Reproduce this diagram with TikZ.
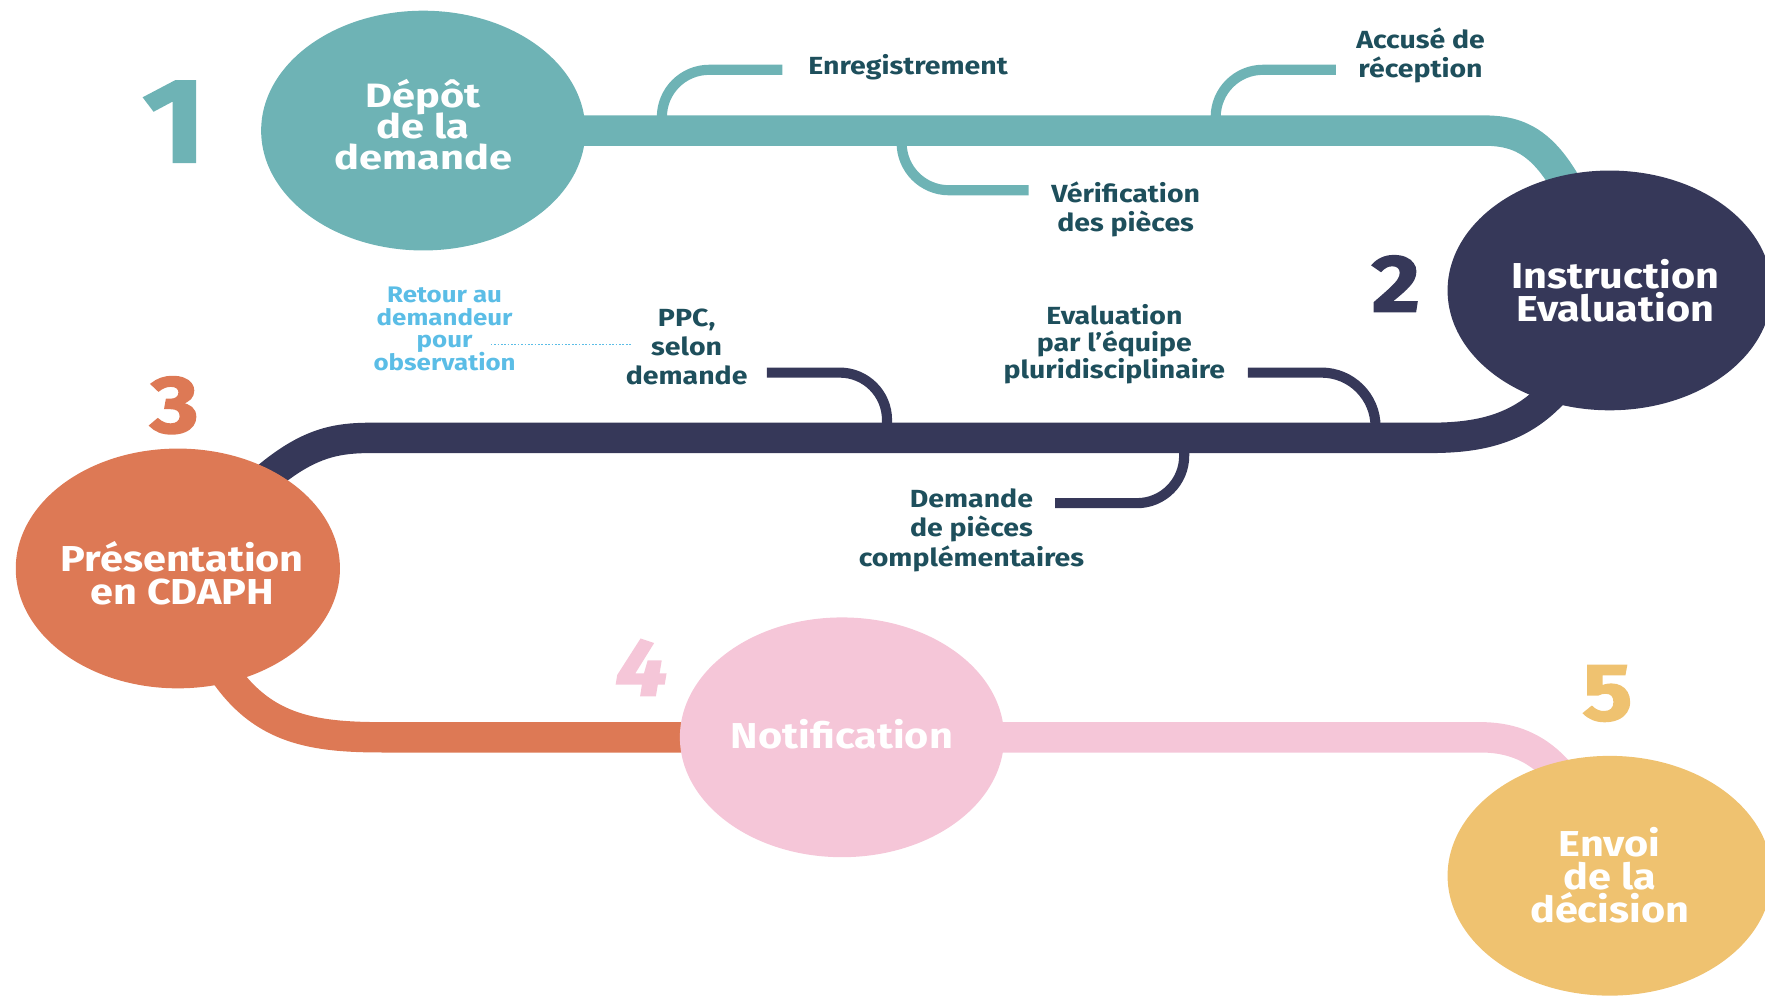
\documentclass[tikz,border=0pt]{standalone}
\usepackage{fontspec}
\setmainfont{Fira Sans}[FakeStretch=1.15]
\newfontfamily\widefont{Fira Sans}[FakeStretch=1.23]
\newfontfamily\digitfont{Fira Sans}[FakeStretch=1.15, BoldFeatures={FakeBold=2}, BoldItalicFeatures={FakeBold=2}]
\usetikzlibrary{shapes.geometric,backgrounds,calc}

\definecolor{tealstep}{HTML}{6EB3B5}
\definecolor{navystep}{HTML}{363859}
\definecolor{orangestep}{HTML}{DD7955}
\definecolor{pinkstep}{HTML}{F5C6D8}
\definecolor{yellowstep}{HTML}{EFC270}
\definecolor{labeltext}{HTML}{1E4F5C}
\definecolor{retourblue}{HTML}{5BBDE6}

\newcommand\tightlines{\lineskiplimit=-30pt\relax}

\tikzset{
  stage/.style={ellipse, minimum width=288pt, minimum height=213pt, inner sep=0pt},
  stagetext/.style={text=white, font=\fontsize{32}{29}\selectfont\bfseries\tightlines, align=center, inner sep=0pt},
  bignum/.style={font=\fontsize{72}{72}\selectfont\digitfont\bfseries, inner sep=0pt},
  steplabel/.style={text=labeltext, font=\fontsize{22}{26}\selectfont\bfseries\tightlines, align=center, inner sep=0pt},
  track/.style={line width=27pt},
  hook/.style={line width=9pt, rounded corners=42pt},
  dotline/.style={retourblue, line width=1.5pt, dash pattern=on 1.5pt off 1.5pt},
}

\begin{document}
\begin{tikzpicture}[x=1pt, y=-1pt]
\useasboundingbox (0,0) rectangle (1568,884);

% the five steps
\node [stage, fill=tealstep] (d1) at (376,116) {};
\node [stage, fill=navystep] (i2) at (1430,258) {};
\node [stage, fill=orangestep] (p3) at (158,505) {};
\node [stage, fill=pinkstep] (n4) at (748,655) {};
\node [stage, fill=yellowstep] (e5) at (1430,778) {};

\node [stagetext, font=\fontsize{30}{27.5}\selectfont\widefont\bfseries\tightlines] (d1t) at ($(d1)+(0,-5)$) {Dépôt\\de la\\demande};
\node [stagetext] (i2t) at ($(i2)+(5,0)$) {Instruction\\Evaluation};
\node [stagetext] (p3t) at ($(p3)+(4,4.5)$) {Présentation\\en CDAPH};
\node [stagetext] (n4t) at ($(n4)+(0,-2.5)$) {Notification};
\node [stagetext] (e5t) at ($(e5)+(0,-0.5)$) {Envoi\\de la\\décision};

% numbers
\node [bignum, tealstep, font=\fontsize{106}{106}\selectfont\digitfont\bfseries] (num1) at (155,108) {1};
\node [bignum, navystep] (num2) at (1240,252) {2};
\node [bignum, orangestep] (num3) at (155,360) {3};
\node [bignum, pinkstep, font=\fontsize{72}{72}\selectfont\digitfont\bfseries\itshape] (num4) at (570,593) {4};
\node [bignum, yellowstep] (num5) at (1428,616) {5};

% labels
\node [steplabel, anchor=west] (enr) at (718,60) {Enregistrement};
\node [steplabel] (acc) at (1262,49) {Accusé de\\réception};
\node [steplabel] (ver) at (1000,186) {Vérification\\des pièces};
\node [steplabel] (ppc) at (610,308) {PPC,\\selon\\demande};
\node [steplabel, font=\fontsize{22}{24}\selectfont\bfseries\tightlines] (eval) at (990,306) {Evaluation\\par l’équipe\\pluridisciplinaire};
\node [steplabel] (dem) at (863,471) {Demande\\de pièces\\complémentaires};
\node [steplabel, retourblue, font=\fontsize{20}{20}\selectfont\bfseries\tightlines] (ret) at (395,292) {Retour au\\demandeur\\pour\\observation};

\coordinate (obs) at (436,306);
\draw [dotline] (obs) -- ($(ppc.west |- obs)+(6,0)$);

\begin{scope}[on background layer]
\draw [track, tealstep] (d1.center) -- (1318,116) .. controls (1362,116) and (1390,135) .. (i2.center);
\draw [track, navystep] (i2.center) .. controls (1390,370) and (1340,389) .. (1270,389) -- (330,389) .. controls (280,389) and (250,400) .. (p3.center);
\draw [track, orangestep] (p3.center) .. controls (200,640) and (250,655) .. (340,655) -- (n4.center);
\draw [track, pinkstep] (n4.center) -- (1315,655) .. controls (1362,655) and (1400,680) .. (e5.center);

\draw [hook, tealstep] (588,112) |- ($(enr.west)+(-23,2)$);
\draw [hook, tealstep] (1080,112) |- ($(acc.west)+(-18,13)$);
\draw [hook, tealstep] (801,122) |- ($(ver.west)+(-20,-17)$);
\draw [hook, navystep] ($(ppc.east)+(17,23)$) -| (788,385);
\draw [hook, navystep, rounded corners=48pt] ($(eval.east)+(20,25)$) -| (1222,385);
\draw [hook, navystep] (1052,395) |- ($(dem.east)+(-26,-24)$);
\end{scope}
\end{tikzpicture}
\end{document}
